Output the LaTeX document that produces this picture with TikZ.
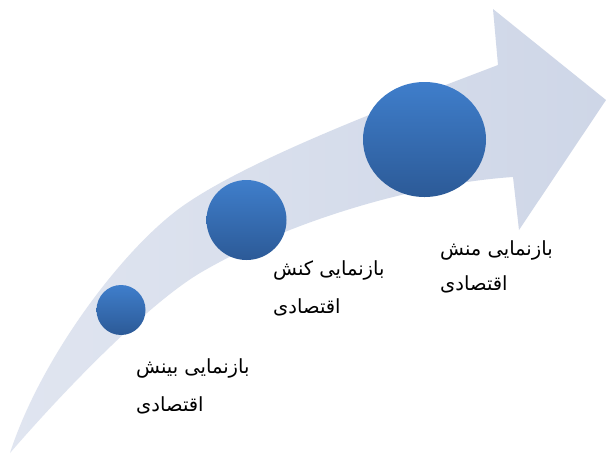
\documentclass[tikz,border=0pt]{standalone}
\usepackage{fontspec}
\usetikzlibrary{shapes.geometric}
\newfontfamily\arabicfont[Script=Arabic]{DejaVu Sans}
\TeXXeTstate=1
\definecolor{bandcol}{HTML}{CED6E7}
\definecolor{bandlight}{HTML}{E0E5F0}
\definecolor{balltop}{HTML}{3F7ECB}
\definecolor{ballbot}{HTML}{2C5A97}
\tikzset{
  ball/.style={ellipse, inner sep=0pt, top color=balltop, bottom color=ballbot, draw=none},
  lbl/.style={anchor=base west, inner sep=0pt,
    font=\arabicfont\fontsize{19.5}{23}\selectfont}
}
\begin{document}
\begin{tikzpicture}[x=1pt,y=-1pt]
\useasboundingbox[fill=white] (0,0) rectangle (606,459);
% the curved arrow
\path[left color=bandlight, right color=bandcol, shading angle=90]
  (10,453) .. controls (40,360) and (120,252) .. (180,208)
  .. controls (250,157) and (420,95) .. (498,65)
  -- (493,9) -- (606,100) -- (519,230) -- (513,177)
  .. controls (420,183) and (290,220) .. (200,273)
  .. controls (145,306) and (60,395) .. (10,453)
  -- cycle;
% balls
\node[ball, minimum width=49pt, minimum height=50pt] (c1) at (121,310) {};
\node[ball, minimum width=80pt, minimum height=80pt] (c2) at (246.5,220) {};
\node[ball, minimum width=123pt, minimum height=115pt] (c3) at (424.5,139.5) {};
% labels
\node[lbl] (t1a) at (136,373) {\beginR بازنمایی بینش\endR};
\node[lbl] (t1b) at (136,411) {\beginR اقتصادی\endR};
\node[lbl] (t2a) at (273,275) {\beginR بازنمایی کنش\endR};
\node[lbl] (t2b) at (273,313) {\beginR اقتصادی\endR};
\node[lbl] (t3a) at (440,255) {\beginR بازنمایی منش\endR};
\node[lbl] (t3b) at (440,290) {\beginR اقتصادی\endR};
\end{tikzpicture}
\end{document}
